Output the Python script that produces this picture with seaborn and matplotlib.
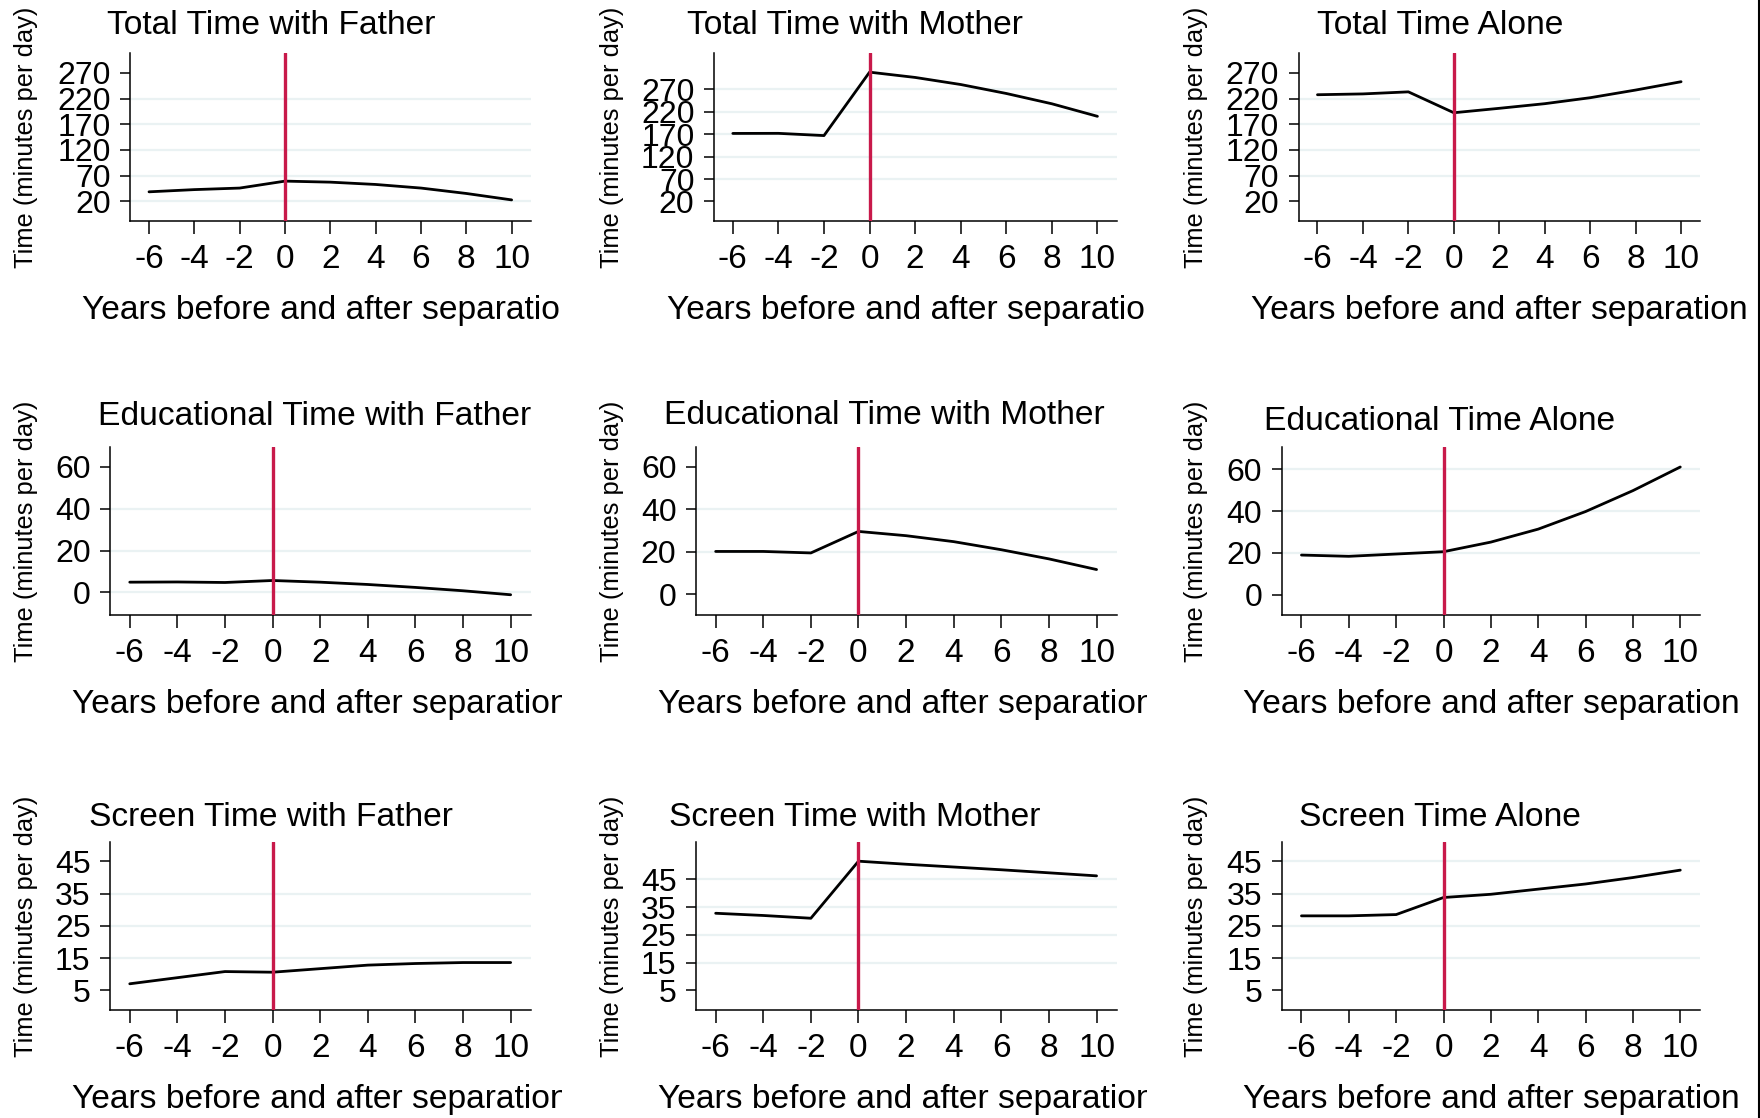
import numpy as np
import pandas as pd
import seaborn as sns
import matplotlib.pyplot as plt
from matplotlib.transforms import Bbox

# Datos
years = [-6, -4, -2, 0, 2, 4, 6, 8, 10]

total_father = [38.7, 43, 46, 59.5, 57.5, 53, 46, 35.5, 23]
total_mother = [171.8, 172, 167, 308.6, 296.8, 281, 261, 238, 210]
total_alone = [227.4, 229, 233, 192.4, 201, 210, 221.6, 236.5, 252.7]

edu_father = [4.9, 5.0, 4.75, 5.7, 4.9, 3.8, 2.4, 0.8, -1.1]
edu_mother = [20.2, 20.2, 19.5, 29.6, 27.6, 24.8, 21.0, 16.7, 11.7]
edu_alone = [19.0, 18.4, 19.5, 20.6, 25.2, 31.4, 39.8, 49.8, 61.1]

screen_father = [7.0, 8.9, 10.8, 10.6, 11.7, 12.8, 13.3, 13.6, 13.6]
screen_mother = [32.8, 32.0, 31.0, 51.6, 50.5, 49.5, 48.5, 47.4, 46.3]
screen_alone = [28.1, 28.1, 28.5, 33.8, 34.8, 36.4, 38.0, 40.0, 42.3]

titles = ["Total Time with Father", "Total Time with Mother", "Total Time Alone",
          "Educational Time with Father", "Educational Time with Mother", "Educational Time Alone",
          "Screen Time with Father", "Screen Time with Mother", "Screen Time Alone"]
series = [total_father, total_mother, total_alone,
          edu_father, edu_mother, edu_alone,
          screen_father, screen_mother, screen_alone]

total_ticks = [20, 70, 120, 170, 220, 270]
edu_ticks = [0, 20, 40, 60]
screen_ticks = [5, 15, 25, 35, 45]
yticks = [total_ticks] * 3 + [edu_ticks] * 3 + [screen_ticks] * 3

# lineas de rejilla (Stata no las dibuja todas)
grids = [[20, 70, 120, 170, 220], [70, 120, 170, 220, 270], [70, 120, 170, 220],
         [0, 20, 40], [20, 40], [20, 40, 60],
         [15, 25, 35], [15, 25, 35, 45], [15, 25, 35, 45]]

ylims = [(-18.2, 308.9), (-23.9, 351.8), (-18.2, 308.9),
         (-10.8, 69.5), (-9.7, 69.4), (-9.7, 70.8),
         (-1.2, 51.1), (-2.2, 58.6), (-1.2, 51.1)]

# fondo
sns.set_style("white")
plt.rcParams['font.family'] = ['Liberation Sans', 'DejaVu Sans']
plt.rcParams['axes.unicode_minus'] = False
for k in ['text.color', 'axes.labelcolor', 'xtick.color', 'ytick.color']:
    plt.rcParams[k] = 'black'

W, H = 1760, 1118
fig = plt.figure(figsize=(W / 100, H / 100), dpi=100)

rows = [(52.8, 221.1), (446.7, 615.1), (841.8, 1010.2)]
cols_top = [(130.2, 530.9), (713.9, 1116.8), (1298.6, 1700.4)]
cols_low = [(110.0, 530.9), (695.9, 1116.8), (1281.8, 1700.4)]
title_x = [271, 855, 1440, 315, 884, 1440, 270.5, 855, 1440]
title_y = [26, 26, 26, 417, 415, 422, 817, 817, 817]
ylab_x = [26, 611.6, 1196]
clip_x = [562, 1147, W]

red = '#C8194A'
grid_col = '#EAF2F3'

for i in range(9):
    r, c = divmod(i, 3)
    top, bot = rows[r]
    left, right = (cols_top if r == 0 else cols_low)[c]
    ax = fig.add_axes([left / W, 1 - bot / H, (right - left) / W, (bot - top) / H])

    df = pd.DataFrame({'year': years, 'time': series[i]})
    for g in grids[i]:
        ax.axhline(g, color=grid_col, lw=1.6, zorder=0)
    sns.lineplot(data=df, x='year', y='time', color='black', lw=2.0, ax=ax, zorder=3)
    ax.axvline(0, color=red, lw=2.4, zorder=4)

    ax.set_xlim(-6.83, 10.85)
    ax.set_ylim(*ylims[i])
    ax.set_xticks(years)
    ax.set_yticks(yticks[i])
    ax.tick_params(axis='x', labelsize=24, length=9.5, width=1.1, pad=7, direction='out', bottom=True)
    ax.tick_params(axis='y', labelsize=23, length=7, width=1.1, pad=7, direction='out', left=True)
    for s in ['top', 'right']:
        ax.spines[s].set_visible(False)
    for s in ['left', 'bottom']:
        ax.spines[s].set_linewidth(1.1)
        ax.spines[s].set_color('black')

    ax.set_ylabel('')
    ax.set_xlabel('Years before and after separation', fontsize=24.2, va='center')
    ax.xaxis.set_label_coords(0.5, -0.53)
    # el texto se corta en el borde del subgrafico, como en el original
    ax.xaxis.label.set_clip_box(Bbox([[0, 0], [clip_x[c], H]]))
    ax.xaxis.label.set_clip_on(True)

    fig.text(title_x[i] / W, 1 - title_y[i] / H, titles[i], fontsize=24.2, ha='center', va='center')
    fig.text(ylab_x[c] / W, 1 - (top + bot) / 2 / H, 'Time (minutes per day)',
             fontsize=18.4, rotation=90, ha='center', va='center')

# borde negro a la derecha
fig.add_artist(plt.Line2D([1758.5 / W, 1758.5 / W], [0, 1], color='black', lw=1.5))

plt.savefig('out.png', dpi=100)
